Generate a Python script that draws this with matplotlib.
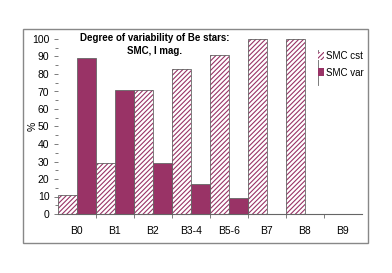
import matplotlib
matplotlib.use("Agg")
import matplotlib.pyplot as plt
import numpy as np
from matplotlib.patches import Patch, Rectangle
from matplotlib.lines import Line2D

categories = ["B0", "B1", "B2", "B3-4", "B5-6", "B7", "B8", "B9"]
smc_cst = [11, 29, 71, 83, 91, 100, 100, 0]
smc_var = [89, 71, 29, 17, 9, 0, 0, 0]

plum = "#993366"
edge = "#666666"
hatch = "///////"

plt.rcParams["font.family"] = ["Liberation Sans", "DejaVu Sans"]
plt.rcParams["hatch.linewidth"] = 0.8

fig = plt.figure(figsize=(3.92, 2.73), dpi=100)
ax = fig.add_axes([57.7 / 392, 1 - 214 / 273, 304 / 392, 175 / 273])

x = np.arange(len(categories))
w = 0.5
# hatched bars: hatch drawn in plum, then a grey outline on top
ax.bar(x - w / 2, smc_cst, width=w, color="white", edgecolor=plum,
       hatch=hatch, linewidth=0)
ax.bar(x - w / 2, smc_cst, width=w, fill=False, edgecolor=edge, linewidth=0.6)
ax.bar(x + w / 2, smc_var, width=w, color=plum, edgecolor=edge, linewidth=0.6)

ax.set_xlim(-0.5, len(categories) - 0.5)
ax.set_ylim(0, 100)
ax.set_yticks(np.arange(0, 101, 10))
ax.set_yticks(np.arange(5, 100, 10), minor=True)
ax.set_xticks(x)
ax.set_xticklabels(categories)
ax.tick_params(axis="x", length=0, pad=9, labelsize=7.5)
ax.set_xticks(np.arange(0.5, len(categories) - 1, 1), minor=True)
ax.tick_params(axis="x", which="minor", length=3, color=edge, width=0.6)
ax.tick_params(axis="y", which="major", length=3, color=edge, width=0.6,
               labelsize=7.5, pad=3)
ax.tick_params(axis="y", which="minor", length=2, color=edge, width=0.6)

for s in ["top", "right", "left"]:
    ax.spines[s].set_visible(False)
ax.spines["bottom"].set_color(edge)
ax.spines["bottom"].set_linewidth(0.8)

ax.set_ylabel("%", fontsize=7.5)
ax.yaxis.set_label_coords(-20 / 304, 0.5)

ax.text(0.32, 1.032, "Degree of variability of Be stars:\nSMC, I mag.",
        transform=ax.transAxes, ha="center", va="top", fontsize=7,
        fontweight="bold", linespacing=1.35)

handles = [Patch(facecolor="white", edgecolor=plum, hatch=hatch, linewidth=0),
           Patch(facecolor=plum, edgecolor=plum, linewidth=0)]
leg = fig.legend(handles, ["SMC cst", "SMC var"], loc="upper left",
                 bbox_to_anchor=(317 / 392, 1 - 50 / 273), frameon=False,
                 fontsize=7, handlelength=0.65, handleheight=0.9,
                 handletextpad=0.15, borderaxespad=0, borderpad=0.1,
                 labelspacing=0.7)
fig.add_artist(Line2D([318 / 392, 318 / 392], [1 - 50 / 273, 1 - 85 / 273],
                      transform=fig.transFigure, color=edge, lw=0.6))

fig.add_artist(Rectangle((22.7 / 392, 1 - 242.7 / 273), (368.3 - 22.7) / 392,
                         (242.7 - 29.3) / 273, transform=fig.transFigure,
                         fill=False, edgecolor="#888888", lw=1))

fig.savefig("out.png", dpi=100)
